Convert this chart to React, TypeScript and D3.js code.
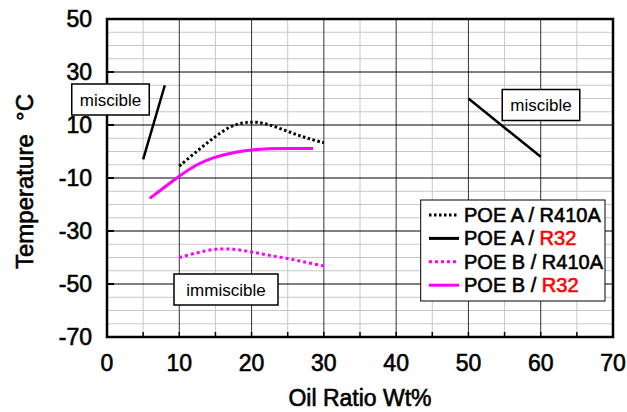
import React from 'react';
import * as d3 from 'd3';

// values: [oil ratio wt%, temperature °C]
const poeA_R410A: [number, number][] = [
    [10, -5.5], [12.4, 0], [14.7, 5], [17, 9.2], [18.9, 10.8], [20.7, 11],
    [22.5, 10], [24.4, 8.2], [26.2, 6.4], [28, 4.8], [30, 3.3],
];
const poeA_R32_low: [number, number][] = [[5, -3], [8, 25]];
const poeA_R32_high: [number, number][] = [[50, 20], [60, -2]];
const poeB_R410A: [number, number][] = [
    [10, -40], [12.5, -38.2], [15, -36.9], [17.5, -36.9], [20, -37.9],
    [22.5, -39.2], [25, -40.4], [27.5, -41.8], [30, -43.2],
];
const poeB_R32: [number, number][] = [
    [5.9, -17.7], [8, -13.4], [9.9, -9.5], [12.4, -5.1], [14.5, -2.6],
    [16.1, -1.3], [18, -0.2], [20, 0.6], [22.5, 1], [24.4, 1.1], [28.5, 1.1],
];

const xTicks = [0, 10, 20, 30, 40, 50, 60, 70];
const yTicks = [50, 30, 10, -10, -30, -50, -70];

const legendItems = [
    { poe: 'POE A', ref: 'R410A', color: '#000000', dash: '2.5 2.5' },
    { poe: 'POE A', ref: 'R32', color: '#000000', dash: null },
    { poe: 'POE B', ref: 'R410A', color: '#ff00ff', dash: '3 3' },
    { poe: 'POE B', ref: 'R32', color: '#ff00ff', dash: null },
];

const W = 627;
const H = 412;
const margin = { top: 19, right: 14, bottom: 75, left: 107 };
const font = '"Liberation Sans", Arial, sans-serif';

export default function App() {
    const x = d3.scaleLinear().domain([0, 70]).range([margin.left, W - margin.right]);
    const y = d3.scaleLinear().domain([-70, 50]).range([H - margin.bottom, margin.top]);
    const line = d3.line<[number, number]>().x(d => x(d[0])).y(d => y(d[1])).curve(d3.curveCatmullRom);
    const straight = d3.line<[number, number]>().x(d => x(d[0])).y(d => y(d[1]));

    const minorX = d3.range(5, 70, 10);
    const majorX = d3.range(10, 70, 10);
    const minorY = d3.range(-65, 50, 5).filter(v => (v - 50) % 20 !== 0);
    const majorY = yTicks.filter(v => v !== 50 && v !== -70);
    const bottomTicks = d3.range(5, 70, 5);

    const [x0, x1] = x.range();
    const [y0, y1] = y.range();

    // heavy text: the reference glyphs are a bit thicker than plain Arial
    const heavy = { fontFamily: font, stroke: '#000', strokeWidth: 0.6 };

    const label = (cx: number, cy: number, w: number, text: string) => (
        <g>
            <rect x={cx - w / 2} y={cy - 15.5} width={w} height={31} fill="#fff" stroke="#000" strokeWidth={1.5} />
            <text x={cx} y={cy + 6} textAnchor="middle" fontSize={17} fontFamily={font}>{text}</text>
        </g>
    );

    return (
        <svg width={W} height={H} style={{ position: 'absolute', left: 0, top: 0, background: '#fff' }}>
            {/* grid */}
            {minorX.map(v => (
                <line key={'mx' + v} x1={x(v)} x2={x(v)} y1={y1} y2={y0} stroke="#c8c8c8" strokeWidth={1} />
            ))}
            {minorY.map(v => (
                <line key={'my' + v} x1={x0} x2={x1} y1={y(v)} y2={y(v)} stroke="#c8c8c8" strokeWidth={1} />
            ))}
            {majorX.map(v => (
                <line key={'Mx' + v} x1={x(v)} x2={x(v)} y1={y1} y2={y0} stroke="#333" strokeWidth={1} />
            ))}
            {majorY.map(v => (
                <line key={'My' + v} x1={x0} x2={x1} y1={y(v)} y2={y(v)} stroke="#000" strokeWidth={1} />
            ))}
            {bottomTicks.map(v => (
                <line key={'bt' + v} x1={x(v)} x2={x(v)} y1={y0} y2={y0 - 5} stroke="#000" strokeWidth={1.5} />
            ))}
            {majorY.map(v => (
                <line key={'lt' + v} x1={x0} x2={x0 + 7} y1={y(v)} y2={y(v)} stroke="#000" strokeWidth={2} />
            ))}

            {/* series */}
            <path d={line(poeA_R410A) || ''} fill="none" stroke="#000" strokeWidth={3} strokeDasharray="2.5 2.5" />
            <path d={straight(poeA_R32_low) || ''} fill="none" stroke="#000" strokeWidth={2.5} />
            <path d={straight(poeA_R32_high) || ''} fill="none" stroke="#000" strokeWidth={2.5} />
            <path d={line(poeB_R410A) || ''} fill="none" stroke="#ff00ff" strokeWidth={3} strokeDasharray="3 3" />
            <path d={line(poeB_R32) || ''} fill="none" stroke="#ff00ff" strokeWidth={3} />

            {/* frame */}
            <rect x={x0} y={y1} width={x1 - x0} height={y0 - y1} fill="none" stroke="#000" strokeWidth={2.5} />

            {/* annotations */}
            {label(110.5, 99.5, 77.5, 'miscible')}
            {label(541, 105, 77.5, 'miscible')}
            {label(226, 289.5, 104, 'immiscible')}

            {/* legend */}
            <g>
                <rect x={420.7} y={200} width={184.3} height={101} fill="#fff" stroke="#000" strokeWidth={1} />
                {legendItems.map((d, i) => {
                    const ly = 215 + i * 23.4;
                    const refColor = d.ref === 'R32' ? '#ff0000' : '#000';
                    return (
                        <g key={i}>
                            <line x1={429} x2={459} y1={ly} y2={ly} stroke={d.color} strokeWidth={3}
                                strokeDasharray={d.dash || undefined} />
                            <text x={464} y={ly + 7} fontSize={20} {...heavy} fill="#000">
                                {d.poe} / <tspan fill={refColor} stroke={refColor}>{d.ref}</tspan>
                            </text>
                        </g>
                    );
                })}
            </g>

            {/* axes labels */}
            {xTicks.map(v => (
                <text key={'xl' + v} x={x(v)} y={371} textAnchor="middle" fontSize={23} {...heavy}>{v}</text>
            ))}
            {yTicks.map(v => (
                <text key={'yl' + v} x={92} y={y(v) + 8} textAnchor="end" fontSize={23} {...heavy}>{v}</text>
            ))}
            <text x={360} y={406} textAnchor="middle" fontSize={23} {...heavy}>Oil Ratio Wt%</text>
            <text transform="translate(33,181.5) rotate(-90)" textAnchor="middle" fontSize={24} {...heavy}
                style={{ whiteSpace: 'pre' }}>Temperature  °C</text>
        </svg>
    );
}
